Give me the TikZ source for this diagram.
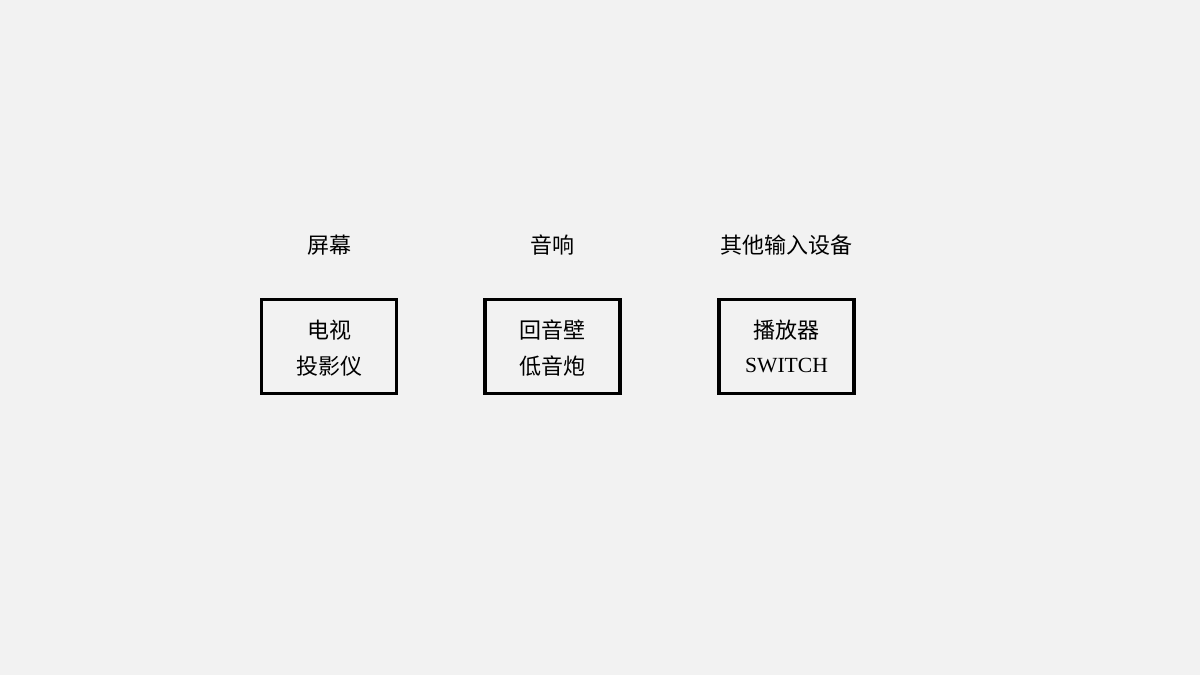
\documentclass[tikz,border=0pt]{standalone}
\usepackage{fontspec}
\setmainfont{Liberation Serif}
\newfontfamily\cjk{Noto Sans CJK SC}
\definecolor{bg}{HTML}{F2F2F2}
\tikzset{
  devbox/.style={draw=black, line width=2.4pt, minimum width=135\pxu, minimum height=94\pxu, inner sep=0pt},
  txt/.style={font=\fontsize{16.5pt}{20pt}\selectfont, text=black, inner sep=0pt},
}
\newlength{\pxu}\setlength{\pxu}{0.75pt}
\begin{document}
\begin{tikzpicture}[x=0.75pt,y=-0.75pt]
\fill[bg] (0,0) rectangle (1200,675);
\useasboundingbox (0,0) rectangle (1200,675);
% boxes
\node[devbox] (b1) at (329,346.5) {};
\node[devbox] (b2) at (552.5,346.5) {};
\node[devbox] (b3) at (786.5,346.5) {};
% headings
\node[txt] (h1) at (329,245) {\cjk 屏幕};
\node[txt] (h2) at (552.5,245) {\cjk 音响};
\node[txt] (h3) at (786.5,245) {\cjk 其他输入设备};
% contents
\node[txt] (t1a) at (329,330) {\cjk 电视};
\node[txt] (t1b) at (329,366) {\cjk 投影仪};
\node[txt] (t2a) at (552.5,330) {\cjk 回音壁};
\node[txt] (t2b) at (552.5,366) {\cjk 低音炮};
\node[txt] (t3a) at (786.5,330) {\cjk 播放器};
\node[txt] (t3b) at (786.5,366) {\fontsize{16.2pt}{20pt}\selectfont SWITCH};
\end{tikzpicture}
\end{document}
